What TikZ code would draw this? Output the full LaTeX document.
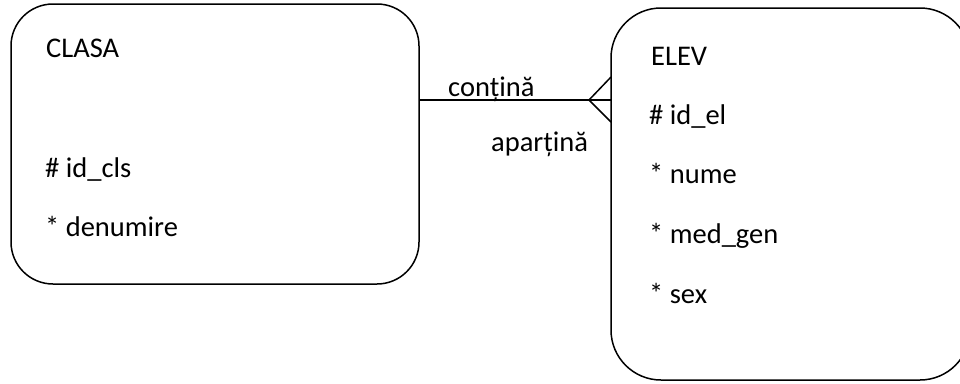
\documentclass[tikz,border=0pt]{standalone}
\usepackage{fontspec}
\setmainfont{Carlito}
\begin{document}
\begin{tikzpicture}[x=1pt,y=-1pt,
  entity/.style={draw, line width=1.5pt, rectangle, inner sep=0pt, outer sep=0pt},
  lbl/.style={anchor=base west, inner sep=0pt, font=\fontsize{28.5}{34}\selectfont},
  conn/.style={line width=1.5pt}]
\useasboundingbox (0,0) rectangle (960,383);
\node[entity, rounded corners=42pt, minimum width=408pt, minimum height=280pt] (clasa) at (215,144) {};
\node[entity, rounded corners=50pt, minimum width=359pt, minimum height=372pt] (elev) at (790.5,194) {};
% texts of CLASA
\node[lbl] (t1) at (46,57) {CLASA};
\node[lbl] (t2) at (45,177) {\# id\_cls};
\node[lbl] (t3) at (45,236) {* denumire};
% texts of ELEV
\node[lbl] (e1) at (651,65) {ELEV};
\node[lbl] (e2) at (649,124) {\# id\_el};
\node[lbl] (e3) at (649,183) {* nume};
\node[lbl] (e4) at (649,243) {* med\_gen};
\node[lbl] (e5) at (649,303) {* sex};
% relationship
\coordinate (apex) at (589,100);
\draw[conn] (clasa.east |- apex) -- (elev.west |- apex);
\draw[conn] (elev.west |- 0,77) -- (apex) -- (elev.west |- 0,122);
\node[lbl] (r1) at (448,96) {conțină};
\node[lbl] (r2) at (491,151) {aparțină};
\end{tikzpicture}
\end{document}
